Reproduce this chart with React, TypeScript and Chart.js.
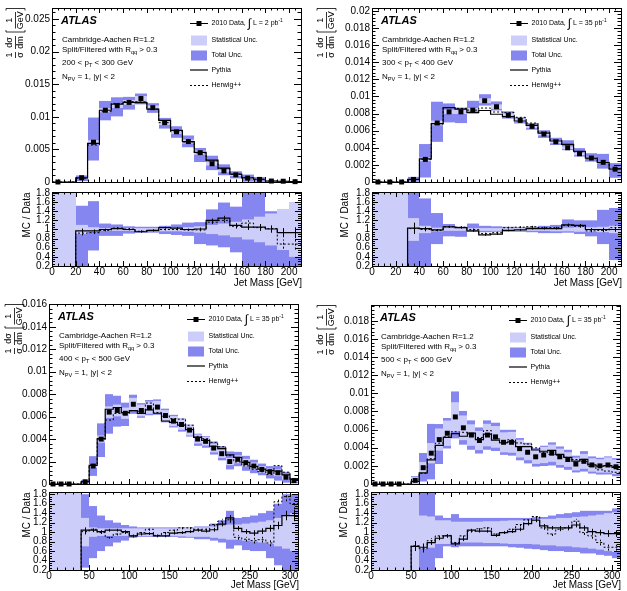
import { useEffect, useRef } from 'react';
import { Chart, registerables } from 'chart.js';

Chart.register(...registerables);

const FONT = '"Liberation Sans", Arial, Helvetica, sans-serif';
const TOTAL_FILL = 'rgb(134,134,240)';
const STAT_FILL = 'rgb(205,205,250)';

// Jet-mass bin edges [GeV]
const edges210 = [0, 10, 20, 30, 40, 50, 60, 70, 80, 90, 100, 110, 120, 130, 140, 150, 160, 170, 180, 190, 200, 210];
const edges310 = [0, 10, 20, 30, 40, 50, 60, 70, 80, 90, 100, 110, 120, 130, 140, 150, 160, 170, 180, 190, 200, 210, 220, 230, 240, 250, 260, 270, 280, 290, 300, 310];

// 200 < pT < 300 GeV  (normalised cross-section, MC/Data ratios, relative uncertainties)
const pt200Data = [0, null, 0.00066, 0.0061, 0.011, 0.0117, 0.0122, 0.0128, 0.0114, 0.0091, 0.0077, 0.0062, 0.0045, 0.0028, 0.0017, 0.0011, 0.0006, 0.0004, 0.00015, 0.00012, 0.00005];
const pt200Pythia = [null, null, 0.97, 0.97, 1.0, 1.02, 1.0, 0.95, 0.98, 1.04, 1.03, 1.0, 1.01, 1.2, 1.25, 1.09, 1.05, 1.05, 1.01, 0.93, 0.93];
const pt200Herwig = [null, null, 0.92, 0.93, 0.98, 1.03, 1.01, 0.96, 0.98, 1.0, 1.0, 0.99, 0.99, 1.16, 1.2, 1.07, 1.14, 1.04, 1.02, 0.68, 0.68];
const pt200TotUp = [9, 9, 0.52, 0.62, 0.13, 0.11, 0.07, 0.06, 0.06, 0.08, 0.11, 0.15, 0.16, 0.44, 0.59, 0.5, 0.9, 0.9, 0.4, 0.4, 0.6];
const pt200TotDown = [9, 9, 0.8, 0.46, 0.14, 0.14, 0.09, 0.07, 0.07, 0.1, 0.12, 0.14, 0.32, 0.35, 0.39, 0.5, 0.9, 0.9, 0.9, 0.9, 0.9];
const pt200Stat = [9, 9, 0.1, 0.05, 0.03, 0.03, 0.03, 0.03, 0.03, 0.04, 0.04, 0.05, 0.07, 0.1, 0.13, 0.17, 0.22, 0.28, 0.35, 0.45, 0.6];
const pt200McErr = [0, 0, 0.05, 0.03, 0.02, 0.02, 0.02, 0.02, 0.02, 0.02, 0.02, 0.02, 0.03, 0.04, 0.05, 0.05, 0.06, 0.07, 0.08, 0.1, 0.12];

// 300 < pT < 400 GeV
const pt300Data = [0, 0, 0, 0.0003, 0.00264, 0.0069, 0.0082, 0.0082, 0.0084, 0.0095, 0.0088, 0.0078, 0.0072, 0.0065, 0.0056, 0.0047, 0.004, 0.0033, 0.0028, 0.0023, 0.0015];
const pt300Pythia = [null, null, null, 1.03, 1.02, 0.99, 1.06, 1.04, 0.97, 0.88, 0.9, 0.98, 0.99, 1.02, 1.02, 1.02, 1.1, 1.09, 1.0, 1.0, 1.0];
const pt300Herwig = [null, null, null, 1.02, 1.0, 0.98, 1.06, 1.05, 1.0, 0.91, 0.93, 1.04, 1.05, 1.06, 1.04, 1.04, 1.09, 1.07, 0.97, 0.98, 1.04];
const pt300TotUp = [9, 9, 9, 1.0, 0.68, 0.36, 0.12, 0.06, 0.13, 0.08, 0.07, 0.06, 0.05, 0.06, 0.08, 0.1, 0.22, 0.2, 0.2, 0.43, 0.47];
const pt300TotDown = [9, 9, 9, 0.9, 0.8, 0.32, 0.15, 0.16, 0.05, 0.06, 0.05, 0.05, 0.05, 0.06, 0.08, 0.08, 0.07, 0.1, 0.15, 0.32, 0.67];
const pt300Stat = [9, 9, 9, 0.25, 0.08, 0.04, 0.03, 0.03, 0.03, 0.03, 0.03, 0.03, 0.03, 0.03, 0.03, 0.04, 0.04, 0.05, 0.05, 0.06, 0.08];
const pt300McErr = [0, 0, 0, 0.12, 0.04, 0.02, 0.02, 0.02, 0.02, 0.02, 0.02, 0.02, 0.02, 0.02, 0.02, 0.02, 0.03, 0.03, 0.03, 0.04, 0.05];

// 400 < pT < 500 GeV
const pt400Data = [0, 0, 0, null, 0.0002, 0.0016, 0.004, 0.0064, 0.00655, 0.0063, 0.0071, 0.00655, 0.0068, 0.00685, 0.0061, 0.0056, 0.0053, 0.0048, 0.004, 0.0038, 0.0032, 0.0027, 0.002, 0.0022, 0.0019, 0.0016, 0.0013, 0.0011, 0.001, 0.0006, 0.0003];
const pt400Pythia = [null, null, null, null, 1.04, 1.04, 1.01, 1.04, 1.04, 1.01, 0.92, 0.96, 0.97, 0.92, 0.92, 0.98, 0.99, 1.01, 1.04, 1.02, 1.05, 1.17, 1.3, 1.08, 1.01, 0.98, 1.02, 1.08, 1.14, 1.35, 1.35];
const pt400Herwig = [null, null, null, null, 1.01, 1.06, 0.99, 0.89, 0.96, 0.99, 0.92, 0.99, 1.06, 0.93, 0.99, 1.04, 1.09, 1.09, 1.06, 1.06, 1.16, 1.23, 1.26, 0.89, 0.85, 0.82, 0.84, 0.77, 1.64, 1.75, 1.6];
const pt400TotUp = [9, 9, 9, 9, 0.8, 0.55, 0.35, 0.25, 0.2, 0.15, 0.12, 0.1, 0.1, 0.1, 0.1, 0.1, 0.1, 0.1, 0.12, 0.12, 0.18, 0.25, 0.45, 0.3, 0.32, 0.35, 0.4, 0.45, 0.6, 0.8, 0.8];
const pt400TotDown = [9, 9, 9, 9, 0.75, 0.55, 0.4, 0.3, 0.22, 0.18, 0.12, 0.1, 0.1, 0.1, 0.1, 0.1, 0.12, 0.12, 0.15, 0.15, 0.18, 0.22, 0.35, 0.28, 0.38, 0.4, 0.4, 0.55, 0.7, 0.8, 0.8];
const pt400Stat = [9, 9, 9, 9, 0.3, 0.1, 0.08, 0.08, 0.08, 0.08, 0.08, 0.08, 0.08, 0.08, 0.08, 0.08, 0.09, 0.1, 0.1, 0.1, 0.12, 0.14, 0.16, 0.16, 0.18, 0.2, 0.22, 0.25, 0.3, 0.35, 0.4];
const pt400McErr = [0, 0, 0, 0, 0.06, 0.04, 0.03, 0.03, 0.03, 0.03, 0.03, 0.03, 0.03, 0.03, 0.03, 0.03, 0.03, 0.03, 0.03, 0.03, 0.04, 0.05, 0.06, 0.05, 0.05, 0.06, 0.06, 0.07, 0.08, 0.1, 0.12];

// 500 < pT < 600 GeV
const pt500Data = [0, 0, 0, 0, null, 0.0004, 0.0018, 0.0034, 0.0049, 0.0056, 0.0074, 0.0062, 0.0054, 0.0048, 0.0054, 0.0052, 0.0046, 0.0046, 0.0039, 0.0035, 0.003, 0.0032, 0.0034, 0.003, 0.0027, 0.0022, 0.0025, 0.0021, 0.002, 0.0021, 0.0019];
const pt500Pythia = [null, null, null, null, null, 0.7, 0.68, 0.78, 0.87, 0.92, 0.75, 0.85, 1.04, 1.02, 1.02, 0.93, 0.99, 1.01, 1.06, 1.18, 1.25, 1.13, 1.09, 1.09, 1.09, 1.15, 1.09, 1.01, 0.99, 0.97, 0.97];
const pt500Herwig = [null, null, null, null, null, 0.71, 0.65, 0.82, 0.92, 0.93, 0.78, 0.92, 1.02, 1.07, 1.09, 0.96, 0.99, 1.06, 1.16, 1.26, 1.33, 1.09, 0.96, 1.06, 1.09, 1.23, 0.99, 0.92, 0.78, 0.68, 0.68];
const pt500TotUp = [9, 9, 9, 9, 9, 1.2, 0.9, 0.95, 0.35, 0.3, 0.38, 0.3, 0.3, 0.3, 0.3, 0.3, 0.3, 0.3, 0.3, 0.3, 0.32, 0.32, 0.35, 0.38, 0.4, 0.42, 0.45, 0.45, 0.45, 0.45, 0.5];
const pt500TotDown = [9, 9, 9, 9, 9, 0.95, 0.85, 0.85, 0.55, 0.3, 0.32, 0.3, 0.3, 0.3, 0.3, 0.3, 0.3, 0.32, 0.33, 0.35, 0.36, 0.38, 0.4, 0.4, 0.42, 0.42, 0.45, 0.45, 0.48, 0.5, 0.55];
const pt500Stat = [9, 9, 9, 9, 9, 1.0, 0.35, 0.33, 0.25, 0.25, 0.22, 0.22, 0.22, 0.22, 0.23, 0.23, 0.24, 0.25, 0.25, 0.25, 0.26, 0.28, 0.28, 0.3, 0.3, 0.32, 0.33, 0.35, 0.37, 0.4, 0.42];
const pt500McErr = [0, 0, 0, 0, 0, 0.1, 0.08, 0.05, 0.04, 0.04, 0.04, 0.04, 0.03, 0.03, 0.03, 0.03, 0.03, 0.03, 0.04, 0.04, 0.04, 0.04, 0.04, 0.04, 0.05, 0.05, 0.05, 0.06, 0.06, 0.07, 0.07];

type Num = number | null;
interface Frame { l: number; r: number; t: number; b: number }
interface Panel {
  edges: number[]; data: Num[]; pythia: Num[]; herwig: Num[];
  totUp: number[]; totDown: number[]; stat: number[]; mcErr: number[];
  xMax: number; xStep: number; xMinor: number;
  yMax: number; yStep: number; yMinor: number; ratioMax: number;
  pt: [string, string]; lumi: string;
  main: Frame; ratio: Frame;
  canvasX: number; canvasW: number;
  mainY: number; mainH: number; ratioY: number; ratioH: number;
  yTitleX: number; ratioTitleX: number; xTitleDy: number;
}

const PANELS: Panel[] = [
  {
    edges: edges210, data: pt200Data, pythia: pt200Pythia, herwig: pt200Herwig,
    totUp: pt200TotUp, totDown: pt200TotDown, stat: pt200Stat, mcErr: pt200McErr,
    xMax: 210, xStep: 20, xMinor: 5, yMax: 0.02668, yStep: 0.005, yMinor: 0.001, ratioMax: 1.821,
    pt: ['200', '300'], lumi: '2',
    main: { l: 52, r: 301, t: 3, b: 182 }, ratio: { l: 52, r: 301, t: 190, b: 266 },
    canvasX: 0, canvasW: 311, mainY: 0, mainH: 190, ratioY: 184, ratioH: 106,
    yTitleX: 15, ratioTitleX: 27, xTitleDy: 17,
  },
  {
    edges: edges210, data: pt300Data, pythia: pt300Pythia, herwig: pt300Herwig,
    totUp: pt300TotUp, totDown: pt300TotDown, stat: pt300Stat, mcErr: pt300McErr,
    xMax: 210, xStep: 20, xMinor: 5, yMax: 0.02034, yStep: 0.002, yMinor: 0.0004, ratioMax: 1.821,
    pt: ['300', '400'], lumi: '35',
    main: { l: 372, r: 621, t: 3, b: 182 }, ratio: { l: 372, r: 621, t: 190, b: 266 },
    canvasX: 312, canvasW: 315, mainY: 0, mainH: 190, ratioY: 184, ratioH: 106,
    yTitleX: 326, ratioTitleX: 345, xTitleDy: 17,
  },
  {
    edges: edges310, data: pt400Data, pythia: pt400Pythia, herwig: pt400Herwig,
    totUp: pt400TotUp, totDown: pt400TotDown, stat: pt400Stat, mcErr: pt400McErr,
    xMax: 310, xStep: 50, xMinor: 10, yMax: 0.01603, yStep: 0.002, yMinor: 0.0004, ratioMax: 1.847,
    pt: ['400', '500'], lumi: '35',
    main: { l: 49, r: 298, t: 304, b: 485 }, ratio: { l: 49, r: 298, t: 490, b: 570 },
    canvasX: 0, canvasW: 311, mainY: 294, mainH: 198, ratioY: 484, ratioH: 107,
    yTitleX: 14, ratioTitleX: 27, xTitleDy: 15,
  },
  {
    edges: edges310, data: pt500Data, pythia: pt500Pythia, herwig: pt500Herwig,
    totUp: pt500TotUp, totDown: pt500TotDown, stat: pt500Stat, mcErr: pt500McErr,
    xMax: 310, xStep: 50, xMinor: 10, yMax: 0.01975, yStep: 0.002, yMinor: 0.0004, ratioMax: 1.847,
    pt: ['500', '600'], lumi: '35',
    main: { l: 371, r: 620, t: 305, b: 486 }, ratio: { l: 371, r: 620, t: 490, b: 570 },
    canvasX: 312, canvasW: 315, mainY: 294, mainH: 198, ratioY: 484, ratioH: 107,
    yTitleX: 326, ratioTitleX: 344, xTitleDy: 15,
  },
];

type Part = { t: string; mode?: 'sub' | 'sup'; size?: number };

function richText(ctx: CanvasRenderingContext2D, x: number, y: number, parts: Part[], size: number) {
  let cx = x;
  for (const part of parts) {
    const s = part.size ?? (part.mode ? size * 0.7 : size);
    ctx.font = `${s}px ${FONT}`;
    const dy = part.mode === 'sub' ? size * 0.32 : part.mode === 'sup' ? -size * 0.4 : 0;
    ctx.fillText(part.t, cx, y + dy);
    cx += ctx.measureText(part.t).width;
  }
}

function stepPoints(edges: number[], vals: number[]) {
  const pts: { x: number; y: number }[] = [];
  vals.forEach((v, i) => {
    pts.push({ x: edges[i], y: v }, { x: edges[i + 1], y: v });
  });
  return pts;
}

const fmt = (v: number | string) => String(Number(Number(v).toFixed(4)));

function drawYTitle(ctx: CanvasRenderingContext2D, x: number, yBottom: number) {
  ctx.save();
  ctx.translate(x, yBottom);
  ctx.rotate(-Math.PI / 2);
  ctx.fillStyle = '#000';
  ctx.strokeStyle = '#000';
  ctx.lineWidth = 0.8;
  ctx.textAlign = 'center';
  ctx.textBaseline = 'middle';
  ctx.font = `9px ${FONT}`;
  const frac = (num: string, den: string, x0: number, x1: number) => {
    const c = (x0 + x1) / 2;
    ctx.fillText(num, c, -5);
    ctx.fillText(den, c, 5.5);
    ctx.beginPath();
    ctx.moveTo(x0, 0.5);
    ctx.lineTo(x1, 0.5);
    ctx.stroke();
  };
  frac('1', 'σ', 0, 6);
  frac('dσ', 'dm', 9, 22);
  ctx.beginPath();
  ctx.moveTo(28, -9); ctx.lineTo(26, -9); ctx.lineTo(26, 10); ctx.lineTo(28, 10);
  ctx.stroke();
  frac('1', 'GeV', 29.5, 46);
  ctx.beginPath();
  ctx.moveTo(47.5, -9); ctx.lineTo(49.5, -9); ctx.lineTo(49.5, 10); ctx.lineTo(47.5, 10);
  ctx.stroke();
  ctx.restore();
}

interface TickSpec {
  xMax: number; xMajor: number; xMinor: number;
  yMin: number; yMax: number; yMajor: number; yMinor: number;
  xLen: [number, number]; yLen: [number, number];
}

function frameTicksPlugin(o: TickSpec) {
  return {
    id: 'frameTicks',
    afterDatasetsDraw(chart: any) {
      const { ctx, chartArea: a, scales } = chart;
      const xs = scales.x;
      const ys = scales.y;
      ctx.save();
      ctx.strokeStyle = '#000';
      ctx.lineWidth = 1;
      ctx.beginPath();
      const mark = (min: number, max: number, major: number, minor: number, fn: (v: number, isMajor: boolean) => void) => {
        const k0 = Math.ceil(min / minor - 1e-6);
        const k1 = Math.floor(max / minor + 1e-6);
        for (let k = k0; k <= k1; k++) {
          const v = k * minor;
          fn(v, Math.abs(v / major - Math.round(v / major)) < 1e-6);
        }
      };
      mark(0, o.xMax, o.xMajor, o.xMinor, (v, M) => {
        const px = Math.round(xs.getPixelForValue(v)) + 0.5;
        const len = M ? o.xLen[0] : o.xLen[1];
        ctx.moveTo(px, a.bottom); ctx.lineTo(px, a.bottom - len);
        ctx.moveTo(px, a.top); ctx.lineTo(px, a.top + len);
      });
      mark(o.yMin, o.yMax, o.yMajor, o.yMinor, (v, M) => {
        const py = Math.round(ys.getPixelForValue(v)) + 0.5;
        const len = M ? o.yLen[0] : o.yLen[1];
        ctx.moveTo(a.left, py); ctx.lineTo(a.left + len, py);
        ctx.moveTo(a.right, py); ctx.lineTo(a.right - len, py);
      });
      ctx.stroke();
      ctx.strokeRect(a.left + 0.5, a.top + 0.5, a.right - a.left, a.bottom - a.top);
      ctx.restore();
    },
  };
}

// Uncertainty boxes: total (dark) first, statistical (light) on top
function bandPlugin(p: Panel, ratio: boolean) {
  return {
    id: 'bands',
    beforeDatasetsDraw(chart: any) {
      const { ctx, chartArea: a, scales } = chart;
      const xs = scales.x;
      const ys = scales.y;
      ctx.save();
      ctx.beginPath();
      ctx.rect(a.left, a.top, a.right - a.left, a.bottom - a.top);
      ctx.clip();
      const box = (i: number, lo: number, hi: number, color: string) => {
        const x0 = Math.round(xs.getPixelForValue(p.edges[i]));
        const x1 = Math.round(xs.getPixelForValue(p.edges[i + 1]));
        const y0 = ys.getPixelForValue(Math.max(lo, ys.min - 1));
        const y1 = ys.getPixelForValue(Math.min(hi, ys.max + 1));
        ctx.fillStyle = color;
        ctx.fillRect(x0, Math.min(y0, y1), x1 - x0, Math.abs(y1 - y0));
      };
      const layers: [number[], number[], string][] = [
        [p.totUp, p.totDown, TOTAL_FILL],
        [p.stat, p.stat, STAT_FILL],
      ];
      for (const [up, dn, color] of layers) {
        p.edges.slice(0, -1).forEach((_, i) => {
          if (ratio) {
            box(i, 1 - dn[i], 1 + up[i], color);
          } else {
            const d = p.data[i];
            if (d == null || d <= 0) return;
            box(i, d * Math.max(0, 1 - dn[i]), d * (1 + up[i]), color);
          }
        });
      }
      ctx.restore();
    },
  };
}

function ratioErrPlugin(p: Panel) {
  return {
    id: 'ratioErr',
    afterDatasetsDraw(chart: any) {
      const { ctx, chartArea: a, scales } = chart;
      const xs = scales.x;
      const ys = scales.y;
      ctx.save();
      ctx.beginPath();
      ctx.rect(a.left, a.top, a.right - a.left, a.bottom - a.top);
      ctx.clip();
      ctx.strokeStyle = '#000';
      const series: [Num[], number[]][] = [[p.pythia, []], [p.herwig, [2, 2]]];
      for (const [vals, dash] of series) {
        ctx.setLineDash(dash);
        ctx.lineWidth = 1;
        ctx.beginPath();
        vals.forEach((v, i) => {
          if (v == null) return;
          const cx = Math.round(xs.getPixelForValue((p.edges[i] + p.edges[i + 1]) / 2)) + 0.5;
          ctx.moveTo(cx, ys.getPixelForValue(v - p.mcErr[i]));
          ctx.lineTo(cx, ys.getPixelForValue(v + p.mcErr[i]));
        });
        ctx.stroke();
      }
      ctx.restore();
    },
  };
}

function mainTextPlugin(p: Panel) {
  return {
    id: 'mainText',
    afterDraw(chart: any) {
      const { ctx, chartArea: a } = chart;
      const L = a.left;
      const T = a.top;
      ctx.save();
      ctx.fillStyle = '#000';
      ctx.strokeStyle = '#000';
      ctx.textAlign = 'left';
      ctx.textBaseline = 'middle';
      ctx.font = `italic bold 11px ${FONT}`;
      ctx.fillText('ATLAS', L + 9, T + 13);
      const s = 8;
      richText(ctx, L + 10, T + 31.5, [{ t: 'Cambridge-Aachen R=1.2' }], s);
      richText(ctx, L + 10, T + 41.5, [{ t: 'Split/Filtered with R' }, { t: 'qq', mode: 'sub' }, { t: ' > 0.3' }], s);
      richText(ctx, L + 10, T + 55, [{ t: `${p.pt[0]} < p` }, { t: 'T', mode: 'sub' }, { t: ` < ${p.pt[1]} GeV` }], s);
      richText(ctx, L + 10, T + 68.5, [{ t: 'N' }, { t: 'PV', mode: 'sub' }, { t: ' = 1, |y| < 2' }], s);

      // legend
      const lx0 = L + 138;
      const lx1 = L + 156;
      const tx = L + 159.5;
      const rows = [T + 15.5, T + 32.5, T + 47.5, T + 62, T + 77.5];
      ctx.lineWidth = 1;
      ctx.beginPath();
      ctx.moveTo(lx0, rows[0]); ctx.lineTo(lx1, rows[0]);
      ctx.stroke();
      ctx.fillRect((lx0 + lx1) / 2 - 2.5, rows[0] - 2.5, 5, 5);
      richText(ctx, tx, rows[0], [{ t: '2010 Data, ' }, { t: '∫', size: 12 }, { t: ` L = ${p.lumi} pb` }, { t: '-1', mode: 'sup' }], 7);
      ctx.fillStyle = STAT_FILL;
      ctx.fillRect(lx0 + 1, rows[1] - 5, 16, 10);
      ctx.fillStyle = TOTAL_FILL;
      ctx.fillRect(lx0 + 1, rows[2] - 5, 16, 10);
      ctx.fillStyle = '#000';
      richText(ctx, tx, rows[1], [{ t: 'Statistical Unc.' }], 7);
      richText(ctx, tx, rows[2], [{ t: 'Total Unc.' }], 7);
      ctx.lineWidth = 1.2;
      ctx.beginPath();
      ctx.moveTo(lx0, rows[3]); ctx.lineTo(lx1, rows[3]);
      ctx.stroke();
      ctx.lineWidth = 1;
      ctx.setLineDash([2, 2]);
      ctx.beginPath();
      ctx.moveTo(lx0, rows[4]); ctx.lineTo(lx1, rows[4]);
      ctx.stroke();
      ctx.setLineDash([]);
      richText(ctx, tx, rows[3], [{ t: 'Pythia' }], 7);
      richText(ctx, tx, rows[4], [{ t: 'Herwig++' }], 7);

      drawYTitle(ctx, p.yTitleX - p.canvasX, T + 50);
      ctx.restore();
    },
  };
}

function ratioTextPlugin(p: Panel) {
  return {
    id: 'ratioText',
    afterDraw(chart: any) {
      const { ctx, chartArea: a } = chart;
      ctx.save();
      ctx.fillStyle = '#000';
      ctx.font = `10px ${FONT}`;
      ctx.textAlign = 'right';
      ctx.textBaseline = 'middle';
      ctx.fillText('Jet Mass [GeV]', a.right + 1, a.bottom + p.xTitleDy);
      ctx.translate(p.ratioTitleX - p.canvasX, a.top + 0.5);
      ctx.rotate(-Math.PI / 2);
      ctx.fillText('MC / Data', 0, 0);
      ctx.restore();
    },
  };
}

function buildOptions(p: Panel, f: Frame, cy: number, ch: number, showX: boolean, yMin: number, yMax: number, yStep: number) {
  const tickFont = { family: FONT, size: 10 };
  return {
    animation: false,
    responsive: false,
    maintainAspectRatio: false,
    devicePixelRatio: 1,
    events: [],
    layout: {
      autoPadding: false,
      padding: { left: 0, top: f.t - cy, right: p.canvasX + p.canvasW - f.r, bottom: 0 },
    },
    plugins: { legend: { display: false }, tooltip: { enabled: false } },
    scales: {
      x: {
        type: 'linear', min: 0, max: p.xMax,
        grid: { display: false, drawTicks: false }, border: { display: false },
        ticks: {
          display: showX, stepSize: p.xStep, autoSkip: false, maxRotation: 0, minRotation: 0,
          includeBounds: false, padding: 0, color: '#000', font: tickFont, callback: fmt,
        },
        afterFit: (s: any) => { s.height = cy + ch - f.b; },
      },
      y: {
        type: 'linear', min: yMin, max: yMax,
        grid: { display: false, drawTicks: false }, border: { display: false },
        ticks: {
          stepSize: yStep, autoSkip: false, includeBounds: false, padding: 2,
          color: '#000', font: tickFont, callback: fmt,
        },
        afterFit: (s: any) => { s.width = f.l - p.canvasX; },
      },
    },
  };
}

function buildMain(canvas: HTMLCanvasElement, p: Panel) {
  const centers = p.edges.slice(0, -1).map((lo, i) => (lo + p.edges[i + 1]) / 2);
  const mc = (r: Num[]) => r.map((v, i) => (v == null || p.data[i] == null ? 0 : (p.data[i] as number) * v));
  const points = centers
    .map((x, i) => ({ x, y: p.data[i] }))
    .filter((d) => d.y != null);
  return new Chart(canvas, {
    type: 'scatter',
    data: {
      datasets: [
        {
          label: '2010 Data', data: points, showLine: false, pointStyle: 'rect', pointRadius: 3.5,
          backgroundColor: '#000', borderColor: '#000', borderWidth: 0, clip: false,
        },
        {
          label: 'Pythia', data: stepPoints(p.edges, mc(p.pythia)), showLine: true, pointRadius: 0,
          borderColor: '#000', borderWidth: 1.2, fill: false,
        },
        {
          label: 'Herwig++', data: stepPoints(p.edges, mc(p.herwig)), showLine: true, pointRadius: 0,
          borderColor: '#000', borderWidth: 1, borderDash: [2, 2], fill: false,
        },
      ],
    },
    options: buildOptions(p, p.main, p.mainY, p.mainH, false, 0, p.yMax, p.yStep) as any,
    plugins: [
      bandPlugin(p, false),
      frameTicksPlugin({
        xMax: p.xMax, xMajor: p.xStep, xMinor: p.xMinor,
        yMin: 0, yMax: p.yMax, yMajor: p.yStep, yMinor: p.yMinor,
        xLen: [5, 2.5], yLen: [7, 3.5],
      }),
      mainTextPlugin(p),
    ],
  } as any);
}

function buildRatio(canvas: HTMLCanvasElement, p: Panel) {
  const zeroed = (r: Num[]) => r.map((v) => (v == null ? 0 : v));
  return new Chart(canvas, {
    type: 'scatter',
    data: {
      datasets: [
        {
          label: 'Pythia', data: stepPoints(p.edges, zeroed(p.pythia)), showLine: true, pointRadius: 0,
          borderColor: '#000', borderWidth: 1.2, fill: false,
        },
        {
          label: 'Herwig++', data: stepPoints(p.edges, zeroed(p.herwig)), showLine: true, pointRadius: 0,
          borderColor: '#000', borderWidth: 1, borderDash: [2, 2], fill: false,
        },
      ],
    },
    options: buildOptions(p, p.ratio, p.ratioY, p.ratioH, true, 0.2, p.ratioMax, 0.2) as any,
    plugins: [
      bandPlugin(p, true),
      ratioErrPlugin(p),
      frameTicksPlugin({
        xMax: p.xMax, xMajor: p.xStep, xMinor: p.xMinor,
        yMin: 0.2, yMax: p.ratioMax, yMajor: 0.2, yMinor: 0.05,
        xLen: [5, 2.5], yLen: [6, 3],
      }),
      ratioTextPlugin(p),
    ],
  } as any);
}

function JetMassPanel({ p }: { p: Panel }) {
  const mainRef = useRef<HTMLCanvasElement>(null);
  const ratioRef = useRef<HTMLCanvasElement>(null);
  useEffect(() => {
    const main = buildMain(mainRef.current as HTMLCanvasElement, p);
    const ratio = buildRatio(ratioRef.current as HTMLCanvasElement, p);
    return () => {
      main.destroy();
      ratio.destroy();
    };
  }, [p]);
  return (
    <>
      <canvas
        ref={mainRef}
        width={p.canvasW}
        height={p.mainH}
        style={{ position: 'absolute', left: p.canvasX, top: p.mainY, width: p.canvasW, height: p.mainH }}
      />
      <canvas
        ref={ratioRef}
        width={p.canvasW}
        height={p.ratioH}
        style={{ position: 'absolute', left: p.canvasX, top: p.ratioY, width: p.canvasW, height: p.ratioH }}
      />
    </>
  );
}

export default function App() {
  return (
    <div
      style={{
        position: 'absolute', left: 0, top: 0, width: 627, height: 591,
        background: '#fff', overflow: 'hidden',
      }}
    >
      {PANELS.map((p, i) => (
        <JetMassPanel key={i} p={p} />
      ))}
    </div>
  );
}
